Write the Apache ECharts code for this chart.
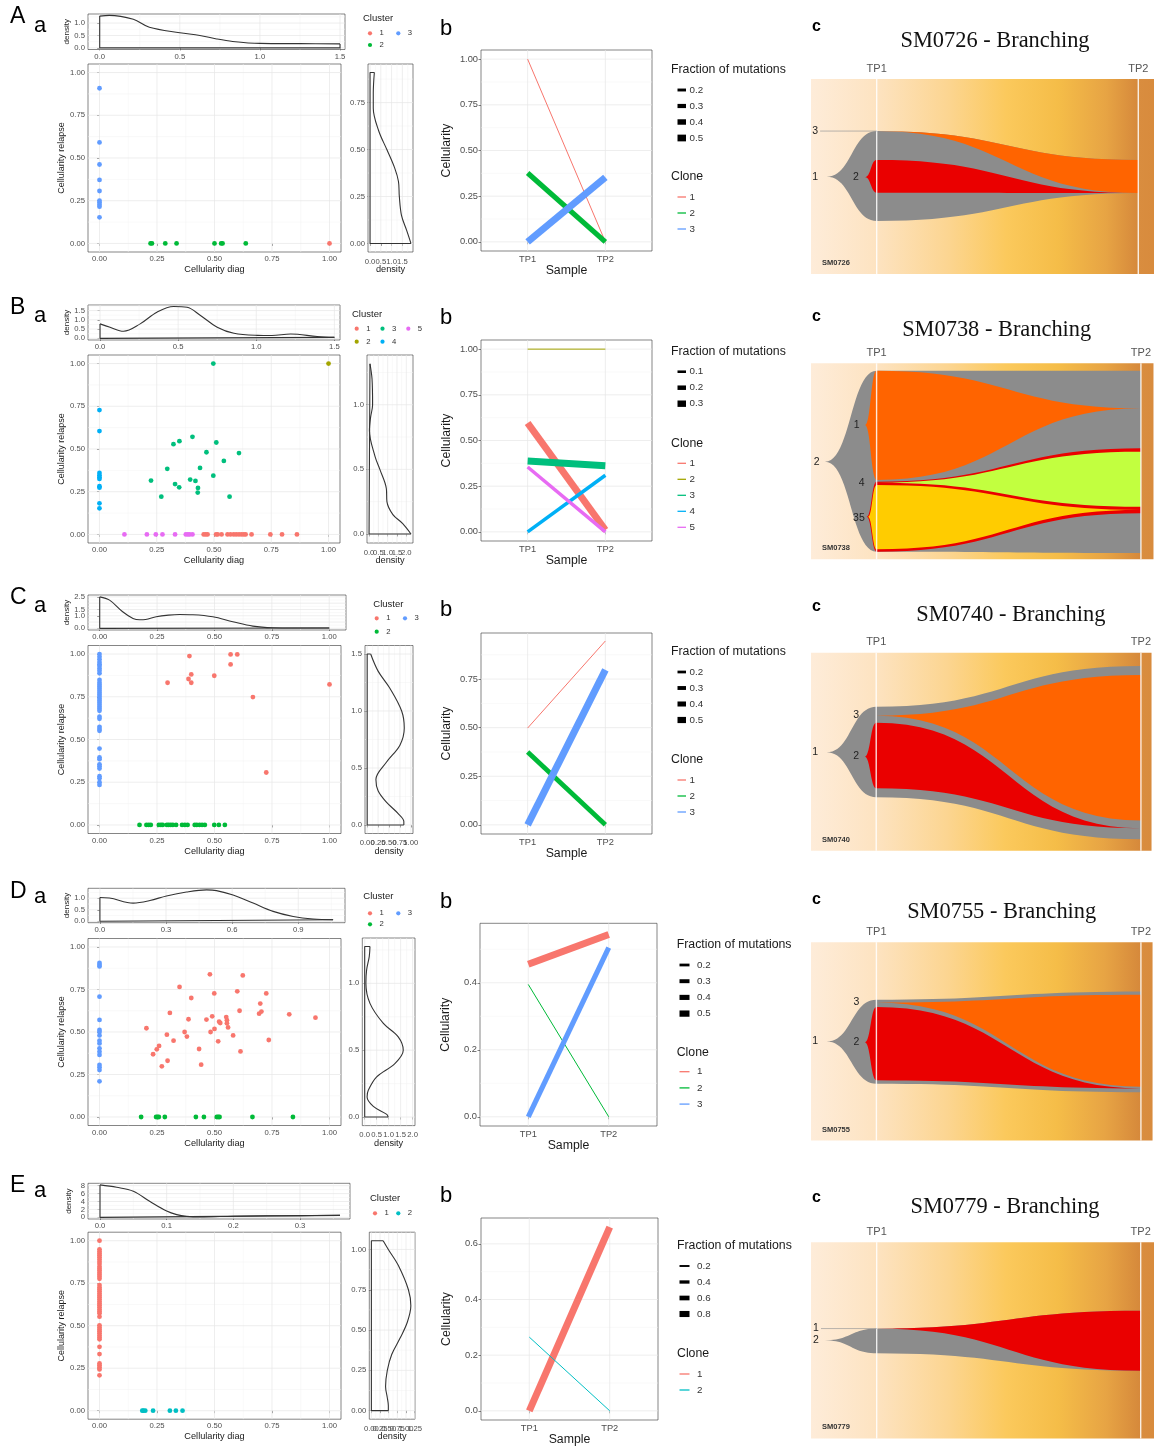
<!DOCTYPE html>
<html><head><meta charset="utf-8">
<script src="https://cdn.jsdelivr.net/npm/echarts@6/dist/echarts.min.js"></script>
<style>html,body{margin:0;padding:0;background:#fff}#main{width:1154px;height:1450px}</style>
</head><body><div id="main"></div>
<script>
// ===================== DATA =====================
const sampleNames = ['TP1', 'TP2'];
const sampleX = [1, 2];
const rowLetters = ['A', 'B', 'C', 'D', 'E'];
const fishSamples = ['SM0726', 'SM0738', 'SM0740', 'SM0755', 'SM0779'];
const FONT = "'Liberation Sans', Arial, Helvetica, sans-serif";
const SERIF = "'Liberation Serif', 'Times New Roman', 'DejaVu Serif', serif";
const PAL3 = ['#F8766D', '#00BA38', '#619CFF'];
const PAL5 = ['#F8766D', '#A3A500', '#00BF7D', '#00B0F6', '#E76BF3'];
const PAL2 = ['#F8766D', '#00BFC4'];
const FISH_GRAY = '#8c8c8c', FISH_RED = '#ea0000', FISH_ORANGE = '#ff6400', FISH_LIME = '#c2ff3f', FISH_YELLOW = '#ffcc00';

// ---- Row A (SM0726) ----
const A_clusterNames = ['1', '2', '3'];
const A_cluster1 = [[1.000, 0.000]];
const A_cluster2 = [0.222, 0.228, 0.286, 0.335, 0.500, 0.529, 0.535, 0.636].map(x => [x, 0]);
const A_cluster3 = [0.908, 0.591, 0.462, 0.372, 0.307, 0.250, 0.239, 0.227, 0.215, 0.153].map(y => [0, y]);
const A_densityDiag = [[0,1.28],[0.06,1.31],[0.21,1.15],[0.31,0.83],[0.5,0.61],[0.625,0.5],[0.73,0.36],[0.83,0.26],[1.0,0.18],[1.25,0.17],[1.5,0.16]];
const A_densityRelapse = [[0.2,0.91],[0.15,0.8],[0.15,0.72],[0.4,0.6],[0.78,0.5],[1.15,0.4],[1.32,0.33],[1.36,0.25],[1.46,0.15],[1.7,0.07],[1.9,0.0]];
const A_ticks = {topX:[0,0.5,1,1.5], topY:[0,0.5,1], mainX:[0,0.25,0.5,0.75,1], mainY:[0,0.25,0.5,0.75,1], rightX:[0,0.5,1,1.5], rightY:[0,0.25,0.5,0.75], lineY:[0,0.25,0.5,0.75,1]};
const A_cloneNames = ['1', '2', '3'];
const A_cellTP1 = [1.000, 0.377, 0.000];
const A_cellTP2 = [0.000, 0.000, 0.353];
const A_fraction = [0.05, 0.38, 0.52];
const A_fractionBreaks = [0.2, 0.3, 0.4, 0.5];
const A_fishTimes = [19.15, 95.42];
const A_fishClones = [
  {name:'1', color:FISH_GRAY,   pts:[[4.58,50.1,50.1],[19.15,26.7,72.8],[95.42,41.5,58.5]]},
  {name:'3', color:FISH_ORANGE, pts:[[19.15,26.7,26.7],[95.42,41.5,58.5]]},
  {name:'2', color:FISH_RED,    pts:[[15.74,50.3,50.3],[19.15,41.5,58.3],[95.42,58.5,58.5]]}
];
const A_fishLabels = [{text:'1',x:1.2,y:50.1},{text:'2',x:13.1,y:50.3},{text:'3',x:1.2,y:26.7,lead:true}];

// ---- Row B (SM0738) ----
const B_clusterNames = ['1', '2', '3', '4', '5'];
const B_cluster1 = [0.455,0.464,0.472,0.509,0.516,0.533,0.559,0.572,0.586,0.597,0.609,0.620,0.630,0.638,0.664,0.746,0.797,0.862].map(x => [x, 0]);
const B_cluster2 = [[1.0, 1.0]];
const B_cluster3 = [[0.497,1.0],[0.225,0.315],[0.270,0.221],[0.296,0.384],[0.323,0.528],[0.330,0.295],[0.349,0.546],[0.348,0.276],[0.396,0.321],[0.406,0.571],[0.419,0.313],[0.430,0.272],[0.429,0.245],[0.439,0.389],[0.467,0.481],[0.497,0.344],[0.510,0.538],[0.543,0.430],[0.568,0.221],[0.609,0.476]];
const B_cluster4 = [0.728,0.605,0.360,0.346,0.335,0.325,0.282,0.274,0.182,0.153].map(y => [0, y]);
const B_cluster5 = [0.109,0.207,0.246,0.275,0.330,0.377,0.386,0.394,0.406].map(x => [x, 0]);
const B_densityDiag = [[0,0.78],[0.064,0.6],[0.15,0.38],[0.257,0.78],[0.364,1.41],[0.471,1.72],[0.557,1.68],[0.643,1.23],[0.75,0.6],[0.857,0.27],[1.007,0.16],[1.1,0.15],[1.22,0.23],[1.39,0.1],[1.5,0.05]];
const B_densityRelapse = [[0.05,1.317],[0.16,1.2],[0.19,1.0],[0.08,0.9],[0.02,0.8],[0.32,0.6],[0.58,0.5],[0.93,0.35],[0.96,0.25],[1.28,0.15],[1.81,0.08],[2.25,0.0]];
const B_ticks = {topX:[0,0.5,1,1.5], topY:[0,0.5,1,1.5], mainX:[0,0.25,0.5,0.75,1], mainY:[0,0.25,0.5,0.75,1], rightX:[0,0.5,1,1.5,2], rightY:[0,0.5,1], lineY:[0,0.25,0.5,0.75,1]};
const B_cloneNames = ['1', '2', '3', '4', '5'];
const B_cellTP1 = [0.596, 1.000, 0.388, 0.000, 0.355];
const B_cellTP2 = [0.010, 1.000, 0.362, 0.310, 0.000];
const B_fraction = [0.33, 0.02, 0.33, 0.15, 0.15];
const B_fractionBreaks = [0.1, 0.2, 0.3];
const B_fishTimes = [19.15, 96.33];
const B_fishClones = [
  {name:'2', color:FISH_GRAY,   pts:[[4.08,50.2,50.2],[19.15,3.8,96.1],[96.33,3.8,96.8]]},
  {name:'1', color:FISH_ORANGE, pts:[[15.74,31.5,31.5],[19.15,3.8,59.5],[96.33,23.0,23.0]]},
  {name:'3', color:FISH_RED,    pts:[[16.24,78.3,78.3],[19.15,60.4,96.1],[96.33,43.4,76.5]]},
  {name:'4', color:FISH_LIME,   pts:[[19.15,60.9,60.9],[96.33,45.1,73.2]]},
  {name:'5', color:FISH_YELLOW, pts:[[16.62,78.3,78.3],[19.15,62.1,94.9],[96.33,74.8,74.8]]}
];
const B_fishLabels = [{text:'2',x:1.66,y:50.2},{text:'1',x:13.3,y:31.5},{text:'4',x:14.8,y:60.9},{text:'35',x:14.0,y:78.8}];

// ---- Row C (SM0740) ----
const C_clusterNames = ['1', '2', '3'];
const C_cluster1 = [[0.296,0.832],[0.391,0.988],[0.387,0.854],[0.399,0.881],[0.399,0.832],[0.499,0.873],[0.570,0.998],[0.599,0.998],[0.570,0.939],[0.667,0.748],[0.725,0.307],[1.000,0.822]];
const C_cluster2 = [0.174,0.204,0.214,0.223,0.258,0.267,0.275,0.293,0.301,0.310,0.319,0.333,0.359,0.371,0.383,0.414,0.423,0.435,0.446,0.458,0.499,0.519,0.545].map(x => [x, 0]);
const C_cluster3 = [1.0,0.984,0.969,0.953,0.941,0.930,0.916,0.902,0.887,0.848,0.832,0.820,0.809,0.797,0.785,0.773,0.762,0.750,0.738,0.727,0.715,0.703,0.691,0.680,0.668,0.633,0.621,0.574,0.562,0.551,0.447,0.395,0.385,0.355,0.344,0.330,0.285,0.273,0.250,0.234].map(y => [0, y]);
const C_densityDiag = [[0,2.5],[0.043,2.24],[0.1,1.32],[0.145,0.79],[0.174,0.68],[0.2,0.7],[0.246,0.92],[0.3,1.05],[0.348,1.1],[0.406,1.08],[0.493,0.92],[0.58,0.53],[0.667,0.18],[0.754,0.05],[0.85,0.03],[1.0,0.03]];
const C_densityRelapse = [[0.08,1.5],[0.25,1.35],[0.52,1.2],[0.79,1.0],[0.85,0.85],[0.75,0.7],[0.44,0.55],[0.2,0.4],[0.25,0.3],[0.44,0.2],[0.71,0.1],[0.84,0.03],[0.84,0]];
const C_ticks = {topX:[0,0.25,0.5,0.75,1], topY:[0,0.5,1,1.5,2,2.5], mainX:[0,0.25,0.5,0.75,1], mainY:[0,0.25,0.5,0.75,1], rightX:[0,0.25,0.5,0.75,1], rightY:[0,0.5,1,1.5], lineY:[0,0.25,0.5,0.75]};
const C_cloneNames = ['1', '2', '3'];
const C_cellTP1 = [0.498, 0.375, 0.000];
const C_cellTP2 = [0.946, 0.000, 0.797];
const C_fraction = [0.05, 0.38, 0.57];
const C_fractionBreaks = [0.2, 0.3, 0.4, 0.5];
const C_fishTimes = [19.15, 96.88];
const C_fishClones = [
  {name:'1', color:FISH_GRAY,   pts:[[4.58,50.3,50.3],[19.15,27.3,73.0],[96.88,6.7,94.2]]},
  {name:'3', color:FISH_ORANGE, pts:[[19.15,31.8,31.8],[96.88,11.3,84.8]]},
  {name:'2', color:FISH_RED,    pts:[[15.74,52.5,52.5],[19.15,35.4,68.5],[96.88,88.7,88.7]]}
];
const C_fishLabels = [{text:'1',x:1.2,y:50.3},{text:'3',x:13.3,y:31.3},{text:'2',x:13.3,y:52.3}];

// ---- Row D (SM0755) ----
const D_clusterNames = ['1', '2', '3'];
const D_cluster1 = [[0.204,0.522],[0.233,0.369],[0.249,0.398],[0.259,0.418],[0.271,0.298],[0.293,0.484],[0.296,0.331],[0.306,0.612],[0.322,0.449],[0.348,0.765],[0.370,0.500],[0.380,0.473],[0.387,0.575],[0.399,0.700],[0.433,0.400],[0.442,0.308],[0.465,0.573],[0.480,0.839],[0.483,0.500],[0.490,0.592],[0.499,0.727],[0.500,0.518],[0.516,0.445],[0.520,0.561],[0.525,0.553],[0.551,0.588],[0.554,0.569],[0.554,0.551],[0.559,0.527],[0.581,0.480],[0.599,0.739],[0.609,0.625],[0.613,0.386],[0.623,0.833],[0.694,0.608],[0.699,0.667],[0.704,0.620],[0.725,0.727],[0.736,0.453],[0.825,0.604],[0.939,0.584]];
const D_cluster2 = [0.181,0.246,0.252,0.258,0.284,0.419,0.454,0.510,0.516,0.522,0.665,0.841].map(x => [x, 0]);
const D_cluster3 = [0.906,0.894,0.886,0.708,0.571,0.512,0.500,0.480,0.449,0.433,0.404,0.384,0.365,0.306,0.292,0.276,0.210].map(y => [0, y]);
const D_densityDiag = [[0,1.03],[0.043,1.01],[0.151,0.79],[0.227,0.9],[0.302,1.1],[0.393,1.27],[0.484,1.36],[0.529,1.33],[0.604,1.14],[0.695,0.79],[0.786,0.43],[0.877,0.21],[0.967,0.1],[1.058,0.07]];
const D_densityRelapse = [[0.22,1.275],[0.19,1.2],[0.08,1.1],[0.05,1.0],[0.22,0.85],[0.78,0.7],[1.4,0.6],[1.61,0.5],[1.26,0.4],[0.5,0.3],[0.15,0.2],[0.1,0.15],[0.36,0.08],[0.92,0.02],[0.98,0]];
const D_ticks = {topX:[0,0.3,0.6,0.9], topY:[0,0.5,1], mainX:[0,0.25,0.5,0.75,1], mainY:[0,0.25,0.5,0.75,1], rightX:[0,0.5,1,1.5,2], rightY:[0,0.5,1], lineY:[0,0.2,0.4]};
const D_cloneNames = ['1', '2', '3'];
const D_cellTP1 = [0.455, 0.395, 0.000];
const D_cellTP2 = [0.544, 0.000, 0.505];
const D_fraction = [0.56, 0.05, 0.40];
const D_fractionBreaks = [0.2, 0.3, 0.4, 0.5];
const D_fishTimes = [19.15, 96.59];
const D_fishClones = [
  {name:'1', color:FISH_GRAY,   pts:[[4.58,50.1,50.1],[19.15,29.0,71.4],[96.59,24.9,75.7]]},
  {name:'3', color:FISH_ORANGE, pts:[[19.15,30.5,30.5],[96.59,26.5,72.9]]},
  {name:'2', color:FISH_RED,    pts:[[15.74,50.5,50.5],[19.15,32.7,69.7],[96.59,73.8,73.8]]}
];
const D_fishLabels = [{text:'1',x:1.2,y:50.1},{text:'3',x:13.3,y:30.3},{text:'2',x:13.3,y:50.5}];

// ---- Row E (SM0779) ----
const E_clusterNames = ['1', '2'];
const E_cluster1 = [1.0,0.949,0.937,0.925,0.914,0.902,0.890,0.876,0.863,0.847,0.835,0.824,0.812,0.800,0.788,0.776,0.739,0.725,0.714,0.702,0.690,0.678,0.667,0.655,0.643,0.631,0.620,0.608,0.596,0.584,0.573,0.553,0.502,0.490,0.478,0.467,0.455,0.443,0.431,0.420,0.376,0.333,0.278,0.267,0.255,0.243,0.208].map(y => [0, y]);
const E_cluster2 = [0.186,0.191,0.199,0.233,0.306,0.332,0.361].map(x => [x, 0]);
const E_densityDiag = [[0,8.2],[0.025,7.6],[0.05,6.6],[0.075,4.0],[0.1,1.6],[0.115,0.7],[0.13,0.26],[0.15,0.1],[0.2,0.3],[0.25,0.4],[0.3,0.45],[0.36,0.5]];
const E_densityRelapse = [[0.34,1.054],[0.49,1.0],[0.78,0.9],[1.07,0.75],[1.14,0.65],[1.04,0.55],[0.83,0.45],[0.59,0.35],[0.46,0.25],[0.41,0.15],[0.46,0.08],[0.49,0.03],[0.49,0]];
const E_ticks = {topX:[0,0.1,0.2,0.3], topY:[0,2,4,6,8], mainX:[0,0.25,0.5,0.75,1], mainY:[0,0.25,0.5,0.75,1], rightX:[0,0.25,0.5,0.75,1,1.25], rightY:[0,0.25,0.5,0.75,1], lineY:[0,0.2,0.4,0.6]};
const E_cloneNames = ['1', '2'];
const E_cellTP1 = [0.000, 0.265];
const E_cellTP2 = [0.660, 0.000];
const E_fraction = [0.93, 0.07];
const E_fractionBreaks = [0.2, 0.4, 0.6, 0.8];
const E_fishTimes = [19.15, 96.12];
const E_fishClones = [
  {name:'2', color:FISH_GRAY, pts:[[4.08,50.0,50.0],[19.15,44.0,56.6],[96.12,34.9,65.5]]},
  {name:'1', color:FISH_RED,  pts:[[19.15,44.0,44.0],[96.12,34.9,65.5]]}
];
const E_fishLabels = [{text:'1',x:1.46,y:44.0,lead:true},{text:'2',x:1.46,y:50.0}];

// ===================== LAYOUT (positions / sizes) =====================
const LAYOUT = {
  A: {top:{left:88,top:14,width:257,height:35.5}, main:{left:88,top:64,width:253,height:188}, right:{left:368,top:64,width:45,height:188},
      line:{left:481,top:50,width:171,height:201}, fish:{left:811,top:79,width:343,height:195},
      ranges:{topX:[-0.073,1.531], topY:[-0.065,1.365], main:[-0.05,1.05], rightX:[-0.095,1.995], rightY:[-0.0455,0.9555], lineY:[-0.05,1.05]},
      dec:{topX:1, topY:1, rightX:1, rightY:2, lineY:2},
      letters:{big:[10,16.7], a:[34,25.5], b:[440,28.7], c:[812,26.1]},
      cLeg:{x:363,y:18,dotX:7,colW:28.3,dy:15.3,rowH:11.7},
      lLeg:{x:671,title:70,y0:90,cTitle:177,cy0:197,step:16,barX:677.5,barW:8.5,labX:689.5},
      fishTitle:[995,40.8], fishTag:[822,263.2]},
  B: {top:{left:88,top:305,width:252,height:35}, main:{left:88,top:355,width:252,height:188}, right:{left:367,top:355,width:46,height:188},
      line:{left:481,top:340,width:171,height:201}, fish:{left:811,top:363.3,width:343,height:196},
      ranges:{topX:[-0.077,1.536], topY:[-0.09,1.8], main:[-0.05,1.05], rightX:[-0.11,2.36], rightY:[-0.07,1.385], lineY:[-0.05,1.05]},
      dec:{topX:1, topY:1, rightX:1, rightY:1, lineY:2},
      letters:{big:[10,307.5], a:[34,315.5], b:[440,318.3], c:[812,316.1]},
      cLeg:{x:352,y:314,dotX:4.7,colW:25.8,dy:14.7,rowH:13},
      lLeg:{x:671,title:352,y0:371.7,cTitle:444,cy0:463.3,step:16,barX:677.5,barW:8.5,labX:689.5},
      fishTitle:[996.7,329.7], fishTag:[822,548.2]},
  C: {top:{left:88,top:595,width:258,height:35}, main:{left:88,top:645.5,width:253,height:188}, right:{left:365,top:645.5,width:48,height:188},
      line:{left:481,top:633,width:171,height:201}, fish:{left:811,top:652.7,width:343,height:198},
      ranges:{topX:[-0.051,1.073], topY:[-0.13,2.65], main:[-0.05,1.05], rightX:[-0.05,1.05], rightY:[-0.075,1.575], lineY:[-0.047,0.987]},
      dec:{topX:2, topY:1, rightX:2, rightY:1, lineY:2},
      letters:{big:[10,597.5], a:[34,605.5], b:[440,609.5], c:[812,606.4]},
      cLeg:{x:373.3,y:604,dotX:3.4,colW:28.3,dy:14.3,rowH:13.4},
      lLeg:{x:671,title:652,y0:672,cTitle:760,cy0:780,step:16,barX:677.5,barW:8.5,labX:689.5},
      fishTitle:[1010.8,615.5], fishTag:[822,839.8]},
  D: {top:{left:88,top:888.3,width:257,height:34.4}, main:{left:88,top:938.5,width:253,height:187}, right:{left:362.3,top:938,width:52.7,height:187.6},
      line:{left:480,top:923.3,width:177,height:202.7}, fish:{left:811,top:942.2,width:343,height:198.2},
      ranges:{topX:[-0.054,1.112], topY:[-0.06,1.43], main:[-0.05,1.05], rightX:[-0.1,2.1], rightY:[-0.064,1.339], lineY:[-0.0275,0.5775]},
      dec:{topX:1, topY:1, rightX:1, rightY:1, lineY:1},
      letters:{big:[10,891.7], a:[34,897.2], b:[440,901.7], c:[812,899.2]},
      cLeg:{x:363.3,y:896.7,dotX:6.7,colW:28.3,dy:16.6,rowH:11},
      lLeg:{x:676.7,title:945,y0:965,cTitle:1052.7,cy0:1071.7,step:16.2,barX:679.5,barW:10,labX:697},
      fishTitle:[1001.7,912.6], fishTag:[822,1129.5]},
  E: {top:{left:88,top:1183.3,width:262,height:35.7}, main:{left:88,top:1232.2,width:253,height:187}, right:{left:369.3,top:1232.2,width:45.7,height:187},
      line:{left:481,top:1218,width:177,height:202}, fish:{left:811,top:1242.2,width:343,height:196.3},
      ranges:{topX:[-0.018,0.375], topY:[-0.41,8.6], main:[-0.05,1.05], rightX:[-0.06,1.26], rightY:[-0.053,1.107], lineY:[-0.033,0.693]},
      dec:{topX:1, topY:0, rightX:2, rightY:2, lineY:1},
      letters:{big:[10,1185.8], a:[34,1191.3], b:[440,1196], c:[812,1197.3]},
      cLeg:{x:370,y:1198.3,dotX:5,colW:23.3,dy:15,rowH:12},
      lLeg:{x:677,title:1246,y0:1266,cTitle:1354,cy0:1374,step:16,barX:679.5,barW:10,labX:697},
      fishTitle:[1005,1207], fishTag:[822,1427.2]}
};

const ROWS = [
  {clusterNames:A_clusterNames, pal:PAL3, scatter:[A_cluster1,A_cluster2,A_cluster3], densTop:A_densityDiag, densRight:A_densityRelapse, ticks:A_ticks,
   cloneNames:A_cloneNames, tp1:A_cellTP1, tp2:A_cellTP2, frac:A_fraction, breaks:A_fractionBreaks, fishTimes:A_fishTimes, fishClones:A_fishClones, fishLabels:A_fishLabels, L:LAYOUT.A},
  {clusterNames:B_clusterNames, pal:PAL5, scatter:[B_cluster1,B_cluster2,B_cluster3,B_cluster4,B_cluster5], densTop:B_densityDiag, densRight:B_densityRelapse, ticks:B_ticks,
   cloneNames:B_cloneNames, tp1:B_cellTP1, tp2:B_cellTP2, frac:B_fraction, breaks:B_fractionBreaks, fishTimes:B_fishTimes, fishClones:B_fishClones, fishLabels:B_fishLabels, L:LAYOUT.B},
  {clusterNames:C_clusterNames, pal:PAL3, scatter:[C_cluster1,C_cluster2,C_cluster3], densTop:C_densityDiag, densRight:C_densityRelapse, ticks:C_ticks,
   cloneNames:C_cloneNames, tp1:C_cellTP1, tp2:C_cellTP2, frac:C_fraction, breaks:C_fractionBreaks, fishTimes:C_fishTimes, fishClones:C_fishClones, fishLabels:C_fishLabels, L:LAYOUT.C},
  {clusterNames:D_clusterNames, pal:PAL3, scatter:[D_cluster1,D_cluster2,D_cluster3], densTop:D_densityDiag, densRight:D_densityRelapse, ticks:D_ticks,
   cloneNames:D_cloneNames, tp1:D_cellTP1, tp2:D_cellTP2, frac:D_fraction, breaks:D_fractionBreaks, fishTimes:D_fishTimes, fishClones:D_fishClones, fishLabels:D_fishLabels, L:LAYOUT.D},
  {clusterNames:E_clusterNames, pal:PAL2, scatter:[E_cluster1,E_cluster2], densTop:E_densityDiag, densRight:E_densityRelapse, ticks:E_ticks,
   cloneNames:E_cloneNames, tp1:E_cellTP1, tp2:E_cellTP2, frac:E_fraction, breaks:E_fractionBreaks, fishTimes:E_fishTimes, fishClones:E_fishClones, fishLabels:E_fishLabels, L:LAYOUT.E}
];

// ===================== BUILD =====================
const option = {animation:false, backgroundColor:'#ffffff', textStyle:{fontFamily:FONT}, grid:[], xAxis:[], yAxis:[], series:[], graphic:[]};

function fmt(ticks, dec, labels) {
  return function (v) {
    let idx = -1;
    for (let i = 0; i < ticks.length; i++) if (Math.abs(ticks[i] - v) < 1e-6) idx = i;
    if (idx < 0) return '';
    return labels ? labels[idx] : ticks[idx].toFixed(dec);
  };
}
function vAxis(range, ticks, dec, o) {
  o = o || {};
  const ax = {
    type:'value', min:range[0], max:range[1],
    axisLine:{show:false}, splitLine:{show:false},
    axisTick:{show:true, customValues:ticks, length:2.5, lineStyle:{color:'#333333', width:0.6}},
    axisLabel:{show:!o.noLabel, customValues:ticks, interval:0, fontSize:o.fs || 7.7, color:'#4d4d4d', margin:o.margin || 3, fontFamily:FONT,
               showMinLabel:true, showMaxLabel:true, hideOverlap:false,
               formatter:fmt(ticks, dec, o.labels)}
  };
  if (o.name) {
    ax.name = o.name; ax.nameLocation = 'middle'; ax.nameGap = o.nameGap;
    ax.nameTextStyle = {fontSize:o.nameSize || 9.2, color:'#1a1a1a', fontFamily:FONT};
    if (o.nameRotate != null) ax.nameRotate = o.nameRotate;
  }
  return ax;
}
function addGrid(box, xAx, yAx, extra) {
  const gi = option.grid.length;
  option.grid.push(Object.assign({left:box.left, top:box.top, width:box.width, height:box.height, show:true,
    borderColor:'#333333', borderWidth:0.6, backgroundColor:'#ffffff', containLabel:false}, extra || {}));
  xAx.gridIndex = gi; yAx.gridIndex = gi;
  option.xAxis.push(xAx); option.yAxis.push(yAx);
  return gi;
}
function minorsOf(maj, range) {
  if (maj.length < 2) return [];
  const st = maj[1] - maj[0], out = [];
  if (maj[0] - st / 2 >= range[0]) out.push(maj[0] - st / 2);
  for (let i = 0; i < maj.length - 1; i++) out.push((maj[i] + maj[i + 1]) / 2);
  const last = maj[maj.length - 1] + st / 2;
  if (last <= range[1]) out.push(last);
  return out;
}
function gridLines(gi, xr, yr, xMaj, yMaj, minorX, minorY) {
  const items = [];
  if (minorX) minorsOf(xMaj, xr).forEach(v => items.push([v, 0, 1]));
  if (minorY) minorsOf(yMaj, yr).forEach(v => items.push([v, 1, 1]));
  xMaj.forEach(v => items.push([v, 0, 0]));
  yMaj.forEach(v => items.push([v, 1, 0]));
  option.series.push({type:'custom', xAxisIndex:gi, yAxisIndex:gi, silent:true, z:1, data:items,
    renderItem:function (p, api) {
      const v = api.value(0), d = api.value(1), m = api.value(2);
      const a = d === 0 ? api.coord([v, yr[0]]) : api.coord([xr[0], v]);
      const b = d === 0 ? api.coord([v, yr[1]]) : api.coord([xr[1], v]);
      return {type:'line', shape:{x1:a[0], y1:a[1], x2:b[0], y2:b[1]}, style:{stroke: m ? '#f2f2f2' : '#e6e6e6', lineWidth: m ? 0.5 : 0.7}};
    }});
}
// tick labels drawn through the axis scale (kept even where they overlap, as in the original)
function xTickLabels(gi, yr, ticks, dec) {
  const f = fmt(ticks, dec);
  option.series.push({type:'custom', xAxisIndex:gi, yAxisIndex:gi, silent:true, z:5, clip:false,
    data:ticks.map(v => [v, 0]),
    renderItem:function (p, api) {
      const c = api.coord([api.value(0), yr[0]]);
      return {type:'text', x:c[0], y:c[1] + 5.5, style:{text:f(api.value(0)), fill:'#4d4d4d', fontSize:7.7, fontFamily:FONT,
        textAlign:'center', align:'center', textVerticalAlign:'top', verticalAlign:'top'}};
    }});
}
function lineS(gi, data, smooth, z) {
  option.series.push({type:'line', xAxisIndex:gi, yAxisIndex:gi, data:data, smooth:smooth, symbol:'none', showSymbol:false,
    lineStyle:{color:'#333333', width:1.1}, z:z || 4, silent:true});
}
function txt(x, y, s, o) {
  option.graphic.push({type:'text', x:x, y:y, silent:true, z:100,
    style:Object.assign({text:s, fill:'#1a1a1a', fontSize:10, fontFamily:FONT, textAlign:'left', align:'left', textVerticalAlign:'middle', verticalAlign:'middle'}, o || {})});
}
function sCurve(p0, p1, out, skipFirst) {
  const N = 24;
  for (let j = skipFirst ? 1 : 0; j <= N; j++) {
    const s = j / N, fx = 1.5 * s * (1 - s) + s * s * s, fy = 3 * s * s - 2 * s * s * s;
    out.push([p0[0] + (p1[0] - p0[0]) * fx, p0[1] + (p1[1] - p0[1]) * fy]);
  }
}

function buildRow(R, ri) {
  const L = R.L;
  // ---- panel letters ----
  txt(L.letters.big[0], L.letters.big[1], rowLetters[ri], {fontSize:23, fill:'#000'});
  txt(L.letters.a[0], L.letters.a[1], 'a', {fontSize:22, fill:'#000'});
  txt(L.letters.b[0], L.letters.b[1], 'b', {fontSize:22, fill:'#000'});
  txt(L.letters.c[0], L.letters.c[1], 'c', {fontSize:16, fill:'#000', fontWeight:'bold'});

  // ---- top marginal density (Cellularity diag) ----
  let gi = addGrid(L.top, vAxis(L.ranges.topX, R.ticks.topX, L.dec.topX),
    vAxis(L.ranges.topY, R.ticks.topY, L.dec.topY, {name:'density', nameGap:15.5, nameRotate:90, nameSize:8}));
  gridLines(gi, L.ranges.topX, L.ranges.topY, R.ticks.topX, R.ticks.topY, true, true);
  const dt = R.densTop, f0 = dt[0], f1 = dt[dt.length - 1];
  lineS(gi, dt, 0.35);
  lineS(gi, [f1, [f1[0], 0], [f0[0], 0], f0], false);

  // ---- main scatter ----
  gi = addGrid(L.main, vAxis(L.ranges.main, R.ticks.mainX, 2, {name:'Cellularity diag', nameGap:13, nameSize:9.2}),
    vAxis(L.ranges.main, R.ticks.mainY, 2, {name:'Cellularity relapse', nameGap:20, nameRotate:90, nameSize:9}));
  gridLines(gi, L.ranges.main, L.ranges.main, R.ticks.mainX, R.ticks.mainY, true, true);
  R.scatter.forEach((pts, k) => option.series.push({type:'scatter', xAxisIndex:gi, yAxisIndex:gi, data:pts, symbolSize:4.8,
    itemStyle:{color:R.pal[k], opacity:1}, z:3, silent:true}));

  // ---- right marginal density (Cellularity relapse) ----
  gi = addGrid(L.right, vAxis(L.ranges.rightX, R.ticks.rightX, L.dec.rightX, {name:'density', nameGap:13, nameSize:9.2, noLabel:true}),
    vAxis(L.ranges.rightY, R.ticks.rightY, L.dec.rightY));
  gridLines(gi, L.ranges.rightX, L.ranges.rightY, R.ticks.rightX, R.ticks.rightY, true, true);
  xTickLabels(gi, L.ranges.rightY, R.ticks.rightX, L.dec.rightX);
  const dr = R.densRight, g0 = dr[0], g1 = dr[dr.length - 1];
  lineS(gi, dr, 0.35);
  lineS(gi, [g0, [0, g0[1]], [0, g1[1]], g1], false);

  // ---- cluster legend ----
  const C = L.cLeg, n = R.clusterNames.length, nrow = n > 2 ? 2 : 1;
  txt(C.x, C.y, 'Cluster', {fontSize:9.5, fill:'#1a1a1a'});
  R.clusterNames.forEach((nm, i) => {
    const col = Math.floor(i / nrow), row = i % nrow;
    const cx = C.x + C.dotX + col * C.colW, cy = C.y + C.dy + row * C.rowH;
    option.graphic.push({type:'circle', silent:true, z:100, shape:{cx:cx, cy:cy, r:2.1}, style:{fill:R.pal[i]}});
    txt(cx + 9.5, cy, nm, {fontSize:7.7, fill:'#333'});
  });

  // ---- clone cellularity line chart ----
  gi = addGrid(L.line, vAxis([0.4, 2.6], sampleX, 0, {labels:sampleNames, fs:9.3, margin:4, name:'Sample', nameGap:14, nameSize:12.3}),
    vAxis(L.ranges.lineY, R.ticks.lineY, L.dec.lineY, {fs:9.3, name:'Cellularity', nameGap:28, nameRotate:90, nameSize:12.3}));
  gridLines(gi, [0.4, 2.6], L.ranges.lineY, sampleX, R.ticks.lineY, false, true);
  const fmin = Math.min.apply(null, R.frac), fmax = Math.max.apply(null, R.frac);
  const wOf = f => Math.max(0.9, 1 + (f - fmin) / (fmax - fmin) * 6);
  R.cloneNames.forEach((c, k) => option.series.push({type:'line', xAxisIndex:gi, yAxisIndex:gi,
    data:[[sampleX[0], R.tp1[k]], [sampleX[1], R.tp2[k]]], symbol:'none', showSymbol:false,
    lineStyle:{color:R.pal[k], width:wOf(R.frac[k]), cap:'butt'}, z:3, silent:true}));

  // ---- line chart legends ----
  const G = L.lLeg;
  txt(G.x, G.title, 'Fraction of mutations', {fontSize:12.3});
  R.breaks.forEach((b, i) => {
    const y = G.y0 + i * G.step, w = wOf(b);
    option.graphic.push({type:'rect', silent:true, z:100, shape:{x:G.barX, y:y - w / 2, width:G.barW, height:w}, style:{fill:'#000'}});
    txt(G.labX, y, b.toFixed(1), {fontSize:9.8, fill:'#333'});
  });
  txt(G.x, G.cTitle, 'Clone', {fontSize:12.3});
  R.cloneNames.forEach((c, i) => {
    const y = G.cy0 + i * G.step;
    option.graphic.push({type:'line', silent:true, z:100, shape:{x1:G.barX, y1:y, x2:G.barX + G.barW, y2:y}, style:{stroke:R.pal[i], lineWidth:1.3}});
    txt(G.labX, y, c, {fontSize:9.8, fill:'#333'});
  });

  // ---- fish plot ----
  const F = L.fish, t = R.fishTimes, tp2 = t[1] / 100;
  const grad = new echarts.graphic.LinearGradient(0, 0, 1, 0, [
    {offset:0, color:'#feecd9'}, {offset:0.19, color:'#fde3c1'}, {offset:0.40, color:'#fcd591'},
    {offset:0.57, color:'#fbc95c'}, {offset:0.72, color:'#f5bd48'}, {offset:0.86, color:'#e7a444'},
    {offset:tp2 - 0.003, color:'#d6893b'}, {offset:tp2, color:'#d98d3f'}, {offset:1, color:'#d88b3d'}]);
  gi = addGrid(F,
    {type:'value', min:0, max:100, position:'top', axisLine:{show:false}, axisTick:{show:false}, splitLine:{show:false},
     axisLabel:{customValues:t, interval:0, formatter:fmt(t, 0, sampleNames), fontSize:11, color:'#555555', margin:5, fontFamily:FONT, showMinLabel:true, showMaxLabel:true}},
    {type:'value', min:0, max:100, inverse:true, show:false},
    {borderWidth:0, borderColor:'transparent', backgroundColor:grad});
  option.series.push({type:'custom', xAxisIndex:gi, yAxisIndex:gi, silent:true, z:2,
    data:R.fishClones.map((c, i) => [i, 0]),
    renderItem:function (p, api) {
      const c = R.fishClones[api.value(0)], top = [], bot = [];
      for (let k = 0; k < c.pts.length - 1; k++) {
        const a = c.pts[k], b = c.pts[k + 1];
        sCurve(api.coord([a[0], a[1]]), api.coord([b[0], b[1]]), top, k > 0);
        sCurve(api.coord([a[0], a[2]]), api.coord([b[0], b[2]]), bot, k > 0);
      }
      return {type:'polygon', shape:{points:top.concat(bot.reverse())}, style:{fill:c.color}};
    }});
  option.series.push({type:'custom', xAxisIndex:gi, yAxisIndex:gi, silent:true, z:3,
    data:t.map((v, i) => [v, 0]),
    renderItem:function (p, api) {
      const a = api.coord([api.value(0), 0]), b = api.coord([api.value(0), 100]);
      return {type:'line', shape:{x1:a[0], y1:a[1], x2:b[0], y2:b[1]}, style:{stroke:'rgba(255,255,255,0.85)', lineWidth:1.4}};
    }});
  option.series.push({type:'custom', xAxisIndex:gi, yAxisIndex:gi, silent:true, z:4,
    data:R.fishLabels.map((l, i) => [i, 0]),
    renderItem:function (p, api) {
      const l = R.fishLabels[api.value(0)], c = api.coord([l.x, l.y]);
      const ch = [{type:'text', x:c[0], y:c[1], style:{text:l.text, fill:'#222', fontSize:10.5, fontFamily:FONT,
        textAlign:'center', align:'center', textVerticalAlign:'middle', verticalAlign:'middle'}}];
      if (l.lead) {
        const e = api.coord([t[0], l.y]);
        ch.push({type:'line', shape:{x1:c[0] + 5, y1:c[1], x2:e[0], y2:e[1]}, style:{stroke:'#999999', lineWidth:0.7}});
      }
      return {type:'group', children:ch};
    }});
  txt(L.fishTitle[0], L.fishTitle[1], fishSamples[ri] + ' - Branching',
      {fontSize:22.4, fontFamily:SERIF, fill:'#111', textAlign:'center', align:'center'});
  txt(L.fishTag[0], L.fishTag[1], fishSamples[ri], {fontSize:7.5, fontWeight:'bold', fill:'#333'});
}

ROWS.forEach(buildRow);

const chart = echarts.init(document.getElementById('main'), null, {renderer:'canvas', width:1154, height:1450});
chart.setOption(option);
</script>
</body></html>
